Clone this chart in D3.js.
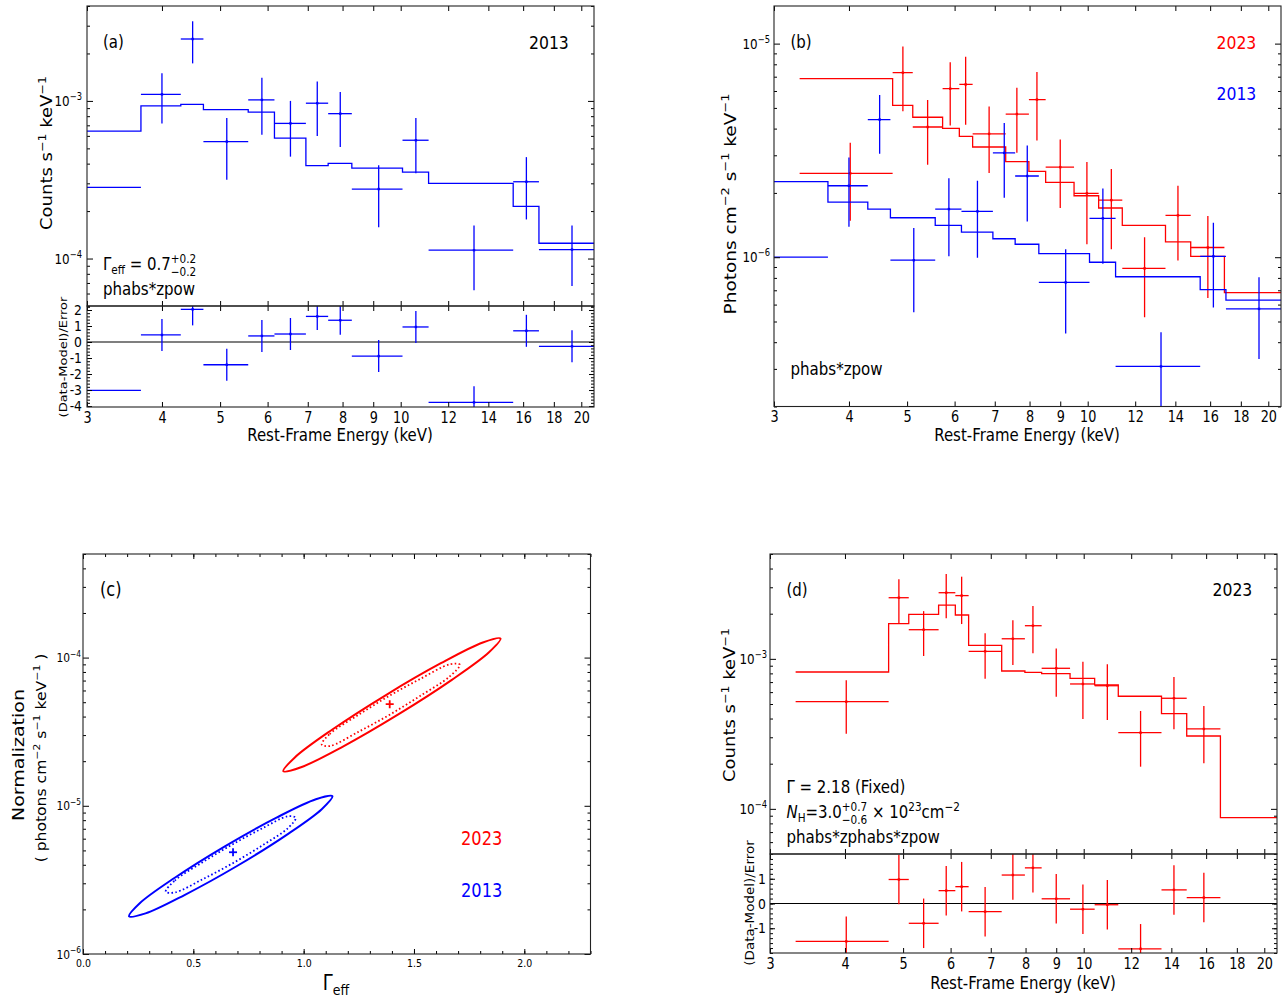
<!DOCTYPE html>
<html><head><meta charset="utf-8">
<script src="https://cdn.jsdelivr.net/npm/d3@7/dist/d3.min.js"></script>
<style>
body{margin:0;background:#fff;}
svg text{white-space:pre;}
</style></head>
<body>
<svg id="fig" width="1288" height="1000" font-family="DejaVu Sans, sans-serif"></svg>
<script>
// ================= DATA =================
const energyTicks = [3,4,5,6,7,8,9,10,12,14,16,18,20];
const gammaTicks = [0.0,0.5,1.0,1.5,2.0];
const resTicksA = [-4,-3,-2,-1,0,1,2];
const resTicksD = [-1,0,1];

// ---- 2013 observation ----
const bins2013 = [2.5,3.69,4.30,4.69,5.57,6.16,6.95,7.57,8.29,10.07,11.13,15.40,17.0,22];
const e2013 = [2.95,4.0,4.5,5.13,5.87,6.55,7.26,7.93,9.19,10.6,13.25,16.2,19.3];
// counts s^-1 keV^-1 (panel a)
const cnt2013   = [2.83e-4,1.10e-3,2.47e-3,5.52e-4,1.015e-3,7.2e-4,9.67e-4,8.3e-4,2.76e-4,5.63e-4,1.13e-4,3.07e-4,1.14e-4];
const cnt2013Hi = [4.0e-4,1.50e-3,3.2e-3,7.8e-4,1.40e-3,1.0e-3,1.33e-3,1.14e-3,3.9e-4,7.8e-4,1.62e-4,4.4e-4,1.62e-4];
const cnt2013Lo = [1.8e-4,7.2e-4,1.73e-3,3.16e-4,6.1e-4,4.43e-4,5.98e-4,5.1e-4,1.58e-4,3.48e-4,6.3e-5,1.77e-4,6.7e-5];
const cntModel2013 = [6.43e-4,9.3e-4,9.5e-4,8.8e-4,8.48e-4,5.8e-4,3.88e-4,4.02e-4,3.75e-4,3.53e-4,3.0e-4,2.14e-4,1.25e-4];
const res2013    = [-3.02,0.44,2.04,-1.42,0.38,0.5,1.6,1.36,-0.88,0.94,-3.77,0.7,-0.27];
const resErr2013 = [1,1,1,1,1,1,0.85,0.9,1,1,1,1,1];
// photons cm^-2 s^-1 keV^-1 (panel b)
const flux2013   = [1.0e-6,2.16e-6,4.41e-6,9.68e-7,1.68e-6,1.64e-6,3.08e-6,2.40e-6,7.62e-7,1.52e-6,3.08e-7,1.01e-6,5.73e-7];
const flux2013Hi = [1.4e-6,2.93e-6,5.74e-6,1.37e-6,2.34e-6,2.28e-6,4.25e-6,3.33e-6,1.09e-6,2.10e-6,4.45e-7,1.45e-6,8.05e-7];
const flux2013Lo = [6.0e-7,1.39e-6,3.05e-6,5.52e-7,1.01e-6,9.93e-7,1.90e-6,1.47e-6,4.39e-7,9.33e-7,1.5e-7,5.81e-7,3.34e-7];
const fluxModel2013 = [2.26e-6,1.81e-6,1.68e-6,1.53e-6,1.41e-6,1.31e-6,1.22e-6,1.15e-6,1.04e-6,9.47e-7,8.1e-7,7.05e-7,6.3e-7];

// ---- 2023 observation ----
const bins2023 = [3.31,4.73,5.11,5.73,6.11,6.43,7.30,7.98,8.51,9.49,10.43,11.42,13.48,14.85,16.9,22];
const e2023 = [4.02,4.92,5.41,5.90,6.26,6.85,7.62,8.23,9.0,9.97,10.95,12.44,14.14,15.86];
const flux2023   = [2.47e-6,7.31e-6,4.07e-6,6.15e-6,6.44e-6,3.78e-6,4.68e-6,5.47e-6,2.64e-6,1.99e-6,1.85e-6,8.86e-7,1.57e-6,1.11e-6];
const flux2023Hi = [3.43e-6,9.7e-6,5.45e-6,8.18e-6,8.69e-6,5.07e-6,6.22e-6,7.37e-6,3.56e-6,2.79e-6,2.59e-6,1.24e-6,2.16e-6,1.56e-6];
const flux2023Lo = [1.48e-6,4.82e-6,2.71e-6,4.14e-6,4.17e-6,2.48e-6,3.08e-6,3.52e-6,1.70e-6,1.15e-6,1.09e-6,5.24e-7,9.66e-7,6.44e-7];
const fluxModel2023 = [6.86e-6,5.14e-6,4.52e-6,4.01e-6,3.68e-6,3.28e-6,2.80e-6,2.52e-6,2.24e-6,1.94e-6,1.70e-6,1.41e-6,1.18e-6,1.01e-6,6.83e-7];
const cnt2023   = [5.18e-4,2.556e-3,1.564e-3,2.76e-3,2.64e-3,1.123e-3,1.361e-3,1.663e-3,8.65e-4,6.80e-4,6.62e-4,3.22e-4,5.46e-4,3.41e-4];
const cnt2023Hi = [7.19e-4,3.39e-3,2.08e-3,3.68e-3,3.53e-3,1.48e-3,1.81e-3,2.25e-3,1.17e-3,9.57e-4,9.2e-4,4.49e-4,7.57e-4,4.85e-4];
const cnt2023Lo = [3.17e-4,1.706e-3,1.045e-3,1.864e-3,1.706e-3,7.38e-4,9.1e-4,1.089e-3,5.59e-4,3.97e-4,3.91e-4,1.91e-4,3.39e-4,2.01e-4];
const cntModel2023 = [8.17e-4,1.715e-3,1.98e-3,2.28e-3,1.96e-3,1.231e-3,8.30e-4,8.13e-4,7.96e-4,7.42e-4,6.70e-4,5.63e-4,4.31e-4,3.06e-4,8.73e-5];
const res2023    = [-1.53,0.97,-0.8,0.52,0.68,-0.33,1.15,1.44,0.19,-0.23,-0.05,-1.83,0.55,0.24];
const resErr2023 = [1,1,1,1,1,1,1,1,1,1,1,1,1,1];

// ---- panel (c): confidence contours [Gamma_eff, Normalization] ----
const contour2023Outer = [[1.892,1.346e-4],[1.840,1.086e-4],[1.670,7.05e-5],[1.427,4.12e-5],[1.178,2.51e-5],[0.988,1.82e-5],[0.908,1.71e-5],[0.960,2.12e-5],[1.130,3.27e-5],[1.373,5.59e-5],[1.622,9.16e-5],[1.812,1.265e-4]];
const contour2023Inner = [[1.082,2.59e-5],[1.118,3.05e-5],[1.254,4.16e-5],[1.390,5.54e-5],[1.526,7.15e-5],[1.662,9.00e-5],[1.708,8.97e-5],[1.662,7.46e-5],[1.526,5.49e-5],[1.390,4.12e-5],[1.254,3.19e-5],[1.118,2.53e-5]];
const contour2013Outer = [[1.1305,1.161e-5],[1.0819,9.49e-6],[0.9230,6.37e-6],[0.6960,3.91e-6],[0.4620,2.51e-6],[0.2835,1.88e-6],[0.2085,1.795e-6],[0.2571,2.20e-6],[0.4160,3.27e-6],[0.6430,5.33e-6],[0.8770,8.32e-6],[1.0555,1.107e-5]];
const contour2013Inner = [[0.375,2.63e-6],[0.416,3.13e-6],[0.543,4.17e-6],[0.679,5.51e-6],[0.815,7.08e-6],[0.928,8.49e-6],[0.964,8.30e-6],[0.928,7.05e-6],[0.815,5.43e-6],[0.679,4.10e-6],[0.543,3.20e-6],[0.416,2.60e-6]];
const bestFit2023 = [1.39, 4.85e-5];
const bestFit2013 = [0.68, 4.86e-6];

// ================= DRAWING =================
const SX = 0.855;
const BLUE = "#0000ff", RED = "#ff0000";
const svg = d3.select("#fig");
const defs = svg.append("defs");
let clipN = 0;
function clip(x0,y0,x1,y1){
  const id = "clip"+(clipN++);
  defs.append("clipPath").attr("id",id).append("rect")
    .attr("x",x0).attr("y",y0).attr("width",x1-x0).attr("height",y1-y0);
  return `url(#${id})`;
}

function rich(x, y, segs, fs, opt={}) {
  let tr = `translate(${x},${y})`;
  if (opt.rotate) tr += ` rotate(${opt.rotate}) scale(1,${opt.sx ?? SX})`;
  else tr += ` scale(${opt.sx ?? SX},1)`;
  const g = svg.append("g").attr("transform", tr).attr("fill", opt.color || "#000");
  const inner = g.append("g");
  let cx = 0;
  for (let s of segs) {
    if (typeof s === "string") s = {t:s};
    if (s.hi !== undefined) {
      const f = fs*0.7;
      const a = inner.append("text").attr("x",cx).attr("y",-0.42*fs).attr("font-size",f).text(s.hi);
      const b = inner.append("text").attr("x",cx).attr("y",0.36*fs).attr("font-size",f).text(s.lo);
      cx += Math.max(a.node().getComputedTextLength(), b.node().getComputedTextLength());
    } else {
      const f = (s.sup||s.sub) ? fs*0.7 : fs;
      const dy = s.sup ? -0.42*fs : (s.sub ? 0.25*fs : 0);
      const t = inner.append("text").attr("x",cx).attr("y",dy).attr("font-size",f).text(s.t);
      if (s.it) t.attr("font-style","italic");
      cx += t.node().getComputedTextLength();
    }
  }
  const a = opt.anchor || "start";
  if (a === "middle") inner.attr("transform", `translate(${-cx/2},0)`);
  if (a === "end") inner.attr("transform", `translate(${-cx},0)`);
  return g;
}

function styleAxis(g){
  g.select(".domain").remove();
  g.selectAll(".tick line").attr("stroke","#000").attr("stroke-width",1);
  return g;
}
function xTicks(x, yPx, dir, values, len){
  const ax = (dir==="up" ? d3.axisBottom(x) : d3.axisTop(x)).tickValues(values).tickSizeInner(-len).tickSizeOuter(0).tickFormat("");
  return styleAxis(svg.append("g").attr("transform",`translate(0,${yPx})`).call(ax));
}
function yTicks(y, xPx, side, values, len){
  const ax = (side==="left" ? d3.axisLeft(y) : d3.axisRight(y)).tickValues(values).tickSizeInner(-len).tickSizeOuter(0).tickFormat("");
  return styleAxis(svg.append("g").attr("transform",`translate(${xPx},0)`).call(ax));
}
function xLabels(x, yPx, values, fmt, fs, pad){
  const g = svg.append("g").attr("transform",`translate(0,${yPx})`)
    .call(d3.axisBottom(x).tickValues(values).tickSize(0).tickPadding(pad).tickFormat(fmt));
  g.select(".domain").remove();
  g.attr("font-family",null).attr("font-size",fs);
  g.selectAll("text").attr("fill","#000").attr("transform",`scale(${SX},1)`);
  return g;
}
function logYLabels(y, xPx, values, fs){
  values.forEach(v=>{
    const ex = Math.round(Math.log10(v));
    rich(xPx, y(v)+fs*0.36, ["10",{t:"\u2212"+Math.abs(ex), sup:true}], fs, {anchor:"end"});
  });
}
function linYLabels(y, xPx, values, fs){
  values.forEach(v=>{
    rich(xPx, y(v)+fs*0.36, [v<0 ? "-"+Math.abs(v) : String(v)], fs, {anchor:"end"});
  });
}
function logMajorsMinors(scale){
  const all = scale.ticks();
  const maj = all.filter(v => Math.abs(Math.log10(v) - Math.round(Math.log10(v))) < 1e-6);
  const min = all.filter(v => !maj.includes(v));
  return [maj, min];
}
function frame(x0,y0,x1,y1){
  svg.append("rect").attr("x",x0).attr("y",y0).attr("width",x1-x0).attr("height",y1-y0)
    .attr("fill","none").attr("stroke","#222").attr("stroke-width",1.1);
}
function drawModel(x, y, bins, model, color, clipUrl){
  const pts = model.map((m,i)=>[bins[i], m]).concat([[bins[model.length], model[model.length-1]]]);
  svg.append("path").attr("clip-path",clipUrl)
    .attr("d", d3.line().x(d=>x(d[0])).y(d=>y(d[1])).curve(d3.curveStepAfter)(pts))
    .attr("stroke",color).attr("stroke-width",1.3).attr("fill","none");
}
function drawData(x, y, bins, e, v, hi, lo, color, clipUrl){
  const g = svg.append("g").attr("clip-path",clipUrl).attr("stroke",color).attr("stroke-width",1.3).attr("fill","none");
  e.forEach((ei,i)=>{
    g.append("line").attr("x1",x(bins[i])).attr("x2",x(bins[i+1])).attr("y1",y(v[i])).attr("y2",y(v[i]));
    g.append("line").attr("x1",x(ei)).attr("x2",x(ei)).attr("y1",y(hi[i])).attr("y2",y(lo[i]));
    g.append("rect").attr("x",x(ei)-1.2).attr("y",y(v[i])-1.2).attr("width",2.4).attr("height",2.4).attr("fill",color).attr("stroke","none");
  });
}
function energyFrameTicks(x, yTop, yBot){
  xTicks(x, yBot, "up", energyTicks, 5);
  xTicks(x, yTop, "down", energyTicks, 5);
}
function logYFrameTicks(y, x0, x1){
  const [maj, min] = logMajorsMinors(y);
  yTicks(y, x0, "left", maj, 6); yTicks(y, x0, "left", min, 3);
  yTicks(y, x1, "right", maj, 6); yTicks(y, x1, "right", min, 3);
  return maj;
}
function linYFrameTicks(y, x0, x1, maj, min){
  yTicks(y, x0, "left", maj, 5); yTicks(y, x0, "left", min, 3);
  yTicks(y, x1, "right", maj, 5); yTicks(y, x1, "right", min, 3);
}
const plus = (a,b)=>a.map((v,i)=>v+b[i]);
const minus = (a,b)=>a.map((v,i)=>v-b[i]);

// ---------------- Panel (a) ----------------
{
  const x = d3.scaleLog().domain([3,21]).range([87,594]);
  const y = d3.scaleLog().domain([5e-5,4e-3]).range([306,6]);
  const r = d3.scaleLinear().domain([-4.06,2.25]).range([407,306]);
  const cMain = clip(87,6,594,306), cRes = clip(87,306,594,407);
  drawModel(x, y, bins2013, cntModel2013, BLUE, cMain);
  drawData(x, y, bins2013, e2013, cnt2013, cnt2013Hi, cnt2013Lo, BLUE, cMain);
  svg.append("line").attr("x1",x(3)).attr("x2",x(21)).attr("y1",r(0)).attr("y2",r(0)).attr("stroke","#000").attr("stroke-width",1.2);
  drawData(x, r, bins2013, e2013, res2013, plus(res2013,resErr2013), minus(res2013,resErr2013), BLUE, cRes);
  energyFrameTicks(x, 6, 306);
  energyFrameTicks(x, 306, 407);
  const maj = logYFrameTicks(y, 87, 594);
  linYFrameTicks(r, 87, 594, resTicksA, d3.range(-4, 2.21, 0.2));
  frame(87,6,594,306); frame(87,306,594,407);
  logYLabels(y, 82, maj, 14);
  linYLabels(r, 82, resTicksA, 14.5);
  xLabels(x, 407, energyTicks, d3.format("d"), 15, 5);
  rich(340, 441, ["Rest-Frame Energy (keV)"], 17.5, {anchor:"middle"});
  rich(52, 153, ["Counts s",{t:"\u22121",sup:true}," keV",{t:"\u22121",sup:true}], 18, {rotate:-90, anchor:"middle"});
  rich(66.5, 357, ["(Data-Model)/Error"], 13, {rotate:-90, anchor:"middle"});
  rich(103, 48, ["(a)"], 17.5);
  rich(529, 48.5, ["2013"], 18.3);
  rich(103, 270, ["\u0393",{t:"eff",sub:true}," = 0.7",{hi:"+0.2",lo:"\u22120.2"}], 17.5);
  rich(103, 295, ["phabs*zpow"], 17.6);
}

// ---------------- Panel (b) ----------------
{
  const x = d3.scaleLog().domain([3,21]).range([774,1281]);
  const y = d3.scaleLog().domain([2e-7,1.5e-5]).range([406.5,6]);
  const c = clip(774,6,1281,406.5);
  drawModel(x, y, bins2023, fluxModel2023, RED, c);
  drawData(x, y, bins2023, e2023, flux2023, flux2023Hi, flux2023Lo, RED, c);
  drawModel(x, y, bins2013, fluxModel2013, BLUE, c);
  drawData(x, y, bins2013, e2013, flux2013, flux2013Hi, flux2013Lo, BLUE, c);
  energyFrameTicks(x, 6, 406.5);
  const maj = logYFrameTicks(y, 774, 1281);
  frame(774,6,1281,406.5);
  logYLabels(y, 770, maj, 14);
  xLabels(x, 406.5, energyTicks, d3.format("d"), 15, 5);
  rich(1027, 441, ["Rest-Frame Energy (keV)"], 17.5, {anchor:"middle"});
  rich(736, 204, ["Photons cm",{t:"\u22122",sup:true}," s",{t:"\u22121",sup:true}," keV",{t:"\u22121",sup:true}], 18.5, {rotate:-90, anchor:"middle"});
  rich(790.5, 48, ["(b)"], 17.5);
  rich(1216.5, 48.5, ["2023"], 18.3, {color:RED});
  rich(1216.5, 100, ["2013"], 18.3, {color:BLUE});
  rich(790.5, 375, ["phabs*zpow"], 17.6);
}

// ---------------- Panel (c) ----------------
{
  const x = d3.scaleLinear().domain([0,2.3]).range([83,590.5]);
  const y = d3.scaleLog().domain([1e-6,5e-4]).range([954,554]);
  const c = clip(83,554,590.5,954);
  const lineC = d3.line().x(d=>x(d[0])).y(d=>y(d[1])).curve(d3.curveCatmullRomClosed.alpha(0.5));
  const g = svg.append("g").attr("clip-path",c).attr("fill","none");
  g.append("path").attr("d",lineC(contour2023Outer)).attr("stroke",RED).attr("stroke-width",2);
  g.append("path").attr("d",lineC(contour2023Inner)).attr("stroke",RED).attr("stroke-width",1.8).attr("stroke-dasharray","1.6,2.4");
  g.append("path").attr("d",lineC(contour2013Outer)).attr("stroke",BLUE).attr("stroke-width",2);
  g.append("path").attr("d",lineC(contour2013Inner)).attr("stroke",BLUE).attr("stroke-width",1.8).attr("stroke-dasharray","1.6,2.4");
  [[bestFit2023,RED],[bestFit2013,BLUE]].forEach(([p,col])=>{
    const px = x(p[0]), py = y(p[1]);
    g.append("line").attr("x1",px-4).attr("x2",px+4).attr("y1",py).attr("y2",py).attr("stroke",col).attr("stroke-width",1.8);
    g.append("line").attr("x1",px).attr("x2",px).attr("y1",py-4).attr("y2",py+4).attr("stroke",col).attr("stroke-width",1.8);
  });
  xTicks(x, 954, "up", gammaTicks, 5); xTicks(x, 954, "up", d3.range(0,2.31,0.1), 3);
  xTicks(x, 554, "down", gammaTicks, 5); xTicks(x, 554, "down", d3.range(0,2.31,0.1), 3);
  const maj = logYFrameTicks(y, 83, 590.5);
  frame(83,554,590.5,954);
  logYLabels(y, 81, maj, 12.5);
  xLabels(x, 954, gammaTicks, d3.format(".1f"), 11, 5);
  rich(336, 990, ["\u0393",{t:"eff",sub:true}], 21, {anchor:"middle"});
  rich(24, 755, ["Normalization"], 19, {rotate:-90, anchor:"middle"});
  rich(46, 758, ["( photons cm",{t:"\u22122",sup:true}," s",{t:"\u22121",sup:true}," keV",{t:"\u22121",sup:true}," )"], 15.6, {rotate:-90, anchor:"middle"});
  rich(100, 596, ["(c)"], 19);
  rich(461, 845, ["2023"], 19, {color:RED});
  rich(461, 897, ["2013"], 19, {color:BLUE});
}

// ---------------- Panel (d) ----------------
{
  const x = d3.scaleLog().domain([3,21]).range([770,1277]);
  const y = d3.scaleLog().domain([5e-5,5e-3]).range([854,554]);
  const r = d3.scaleLinear().domain([-2,2]).range([953,854]);
  const cMain = clip(770,554,1277,854), cRes = clip(770,854,1277,953);
  drawModel(x, y, bins2023, cntModel2023, RED, cMain);
  drawData(x, y, bins2023, e2023, cnt2023, cnt2023Hi, cnt2023Lo, RED, cMain);
  svg.append("line").attr("x1",x(3)).attr("x2",x(21)).attr("y1",r(0)).attr("y2",r(0)).attr("stroke","#000").attr("stroke-width",1.2);
  drawData(x, r, bins2023, e2023, res2023, plus(res2023,resErr2023), minus(res2023,resErr2023), RED, cRes);
  energyFrameTicks(x, 554, 854);
  energyFrameTicks(x, 854, 953);
  const maj = logYFrameTicks(y, 770, 1277);
  linYFrameTicks(r, 770, 1277, resTicksD, d3.range(-2, 2.01, 0.2));
  frame(770,554,1277,854); frame(770,854,1277,953);
  logYLabels(y, 767, maj, 14);
  linYLabels(r, 766, resTicksD, 14.5);
  xLabels(x, 953, energyTicks, d3.format("d"), 15, 5);
  rich(1023, 989, ["Rest-Frame Energy (keV)"], 17.5, {anchor:"middle"});
  rich(735, 705, ["Counts s",{t:"\u22121",sup:true}," keV",{t:"\u22121",sup:true}], 18, {rotate:-90, anchor:"middle"});
  rich(754, 903, ["(Data-Model)/Error"], 13.5, {rotate:-90, anchor:"middle"});
  rich(786.5, 596, ["(d)"], 17.5);
  rich(1212.5, 596, ["2023"], 18.3);
  rich(786.5, 793, ["\u0393 = 2.18 (Fixed)"], 17.5);
  rich(786.5, 818, [{t:"N",it:true},{t:"H",sub:true},"=3.0",{hi:"+0.7",lo:"\u22120.6"}," \u00d7 10",{t:"23",sup:true},"cm",{t:"\u22122",sup:true}], 17.5);
  rich(786.5, 843, ["phabs*zphabs*zpow"], 17.6);
}
</script>
</body></html>
